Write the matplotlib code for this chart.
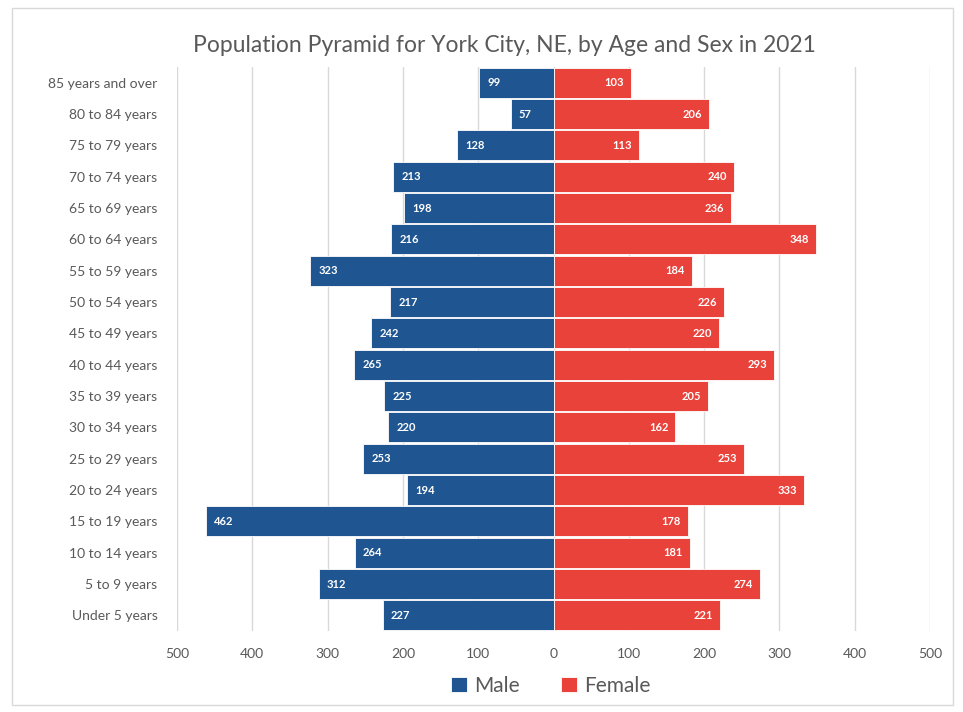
import matplotlib
matplotlib.use("Agg")
import matplotlib.pyplot as plt
from matplotlib.patches import Rectangle
import numpy as np

plt.rcParams['font.family'] = ['Lato', 'DejaVu Sans']

age_groups = [
    "Under 5 years", "5 to 9 years", "10 to 14 years", "15 to 19 years",
    "20 to 24 years", "25 to 29 years", "30 to 34 years", "35 to 39 years",
    "40 to 44 years", "45 to 49 years", "50 to 54 years", "55 to 59 years",
    "60 to 64 years", "65 to 69 years", "70 to 74 years", "75 to 79 years",
    "80 to 84 years", "85 years and over",
]
male = [227, 312, 264, 462, 194, 253, 220, 225, 265, 242, 217, 323,
        216, 198, 213, 128, 57, 99]
female = [221, 274, 181, 178, 333, 253, 162, 205, 293, 220, 226, 184,
          348, 236, 240, 113, 206, 103]
x_ticks = [-500, -400, -300, -200, -100, 0, 100, 200, 300, 400, 500]
x_tick_labels = ["500", "400", "300", "200", "100", "0", "100", "200", "300", "400", "500"]

blue = "#1F5591"
red = "#E8423B"
grey_text = "#595959"

fig = plt.figure(figsize=(9.63, 7.12), dpi=100)
fig.patches.append(Rectangle((12 / 963, 1 - 705 / 712), 941 / 963, 697 / 712,
                             transform=fig.transFigure, fill=False,
                             edgecolor="#d9d9d9", linewidth=1.0))

ax = fig.add_axes([177 / 963, 1 - 631 / 712, 753 / 963, 564 / 712])
y = np.arange(len(age_groups))

ax.barh(y, [-m for m in male], height=0.95, color=blue, edgecolor="white",
        linewidth=0.6, label="Male", zorder=3)
ax.barh(y, female, height=0.95, color=red, edgecolor="white",
        linewidth=0.6, label="Female", zorder=3)

for yi, m, f in zip(y, male, female):
    ax.annotate(str(m), xy=(-m, yi), xytext=(6, 0), textcoords="offset points",
                ha="left", va="center", color="white", fontsize=8,
                fontweight="bold", zorder=4)
    ax.annotate(str(f), xy=(f, yi), xytext=(-5, 0), textcoords="offset points",
                ha="right", va="center", color="white", fontsize=8,
                fontweight="bold", zorder=4)

ax.set_xlim(-500, 500)
ax.set_ylim(-0.5, len(age_groups) - 0.5)
ax.set_xticks(x_ticks)
ax.set_xticklabels(x_tick_labels)
ax.set_yticks(y)
ax.set_yticklabels(age_groups)
ax.tick_params(axis="both", length=0, colors=grey_text, labelsize=10)
ax.tick_params(axis="x", pad=12)
ax.tick_params(axis="y", pad=14)
ax.grid(axis="x", color="#d9d9d9", linewidth=1.0, zorder=0)
for s in ax.spines.values():
    s.set_visible(False)

fig.text(504 / 963, 1 - 45 / 712,
         "Population Pyramid for York City, NE, by Age and Sex in 2021",
         ha="center", va="center", fontsize=16.5, color=grey_text)

leg = fig.legend(loc="center", bbox_to_anchor=(551 / 963, 1 - 686 / 712),
                 ncol=2, frameon=False, fontsize=15, handlelength=0.75,
                 handleheight=0.75, handletextpad=0.35, columnspacing=2.0,
                 labelcolor=grey_text)

fig.savefig("out.png", dpi=100, facecolor="white")
